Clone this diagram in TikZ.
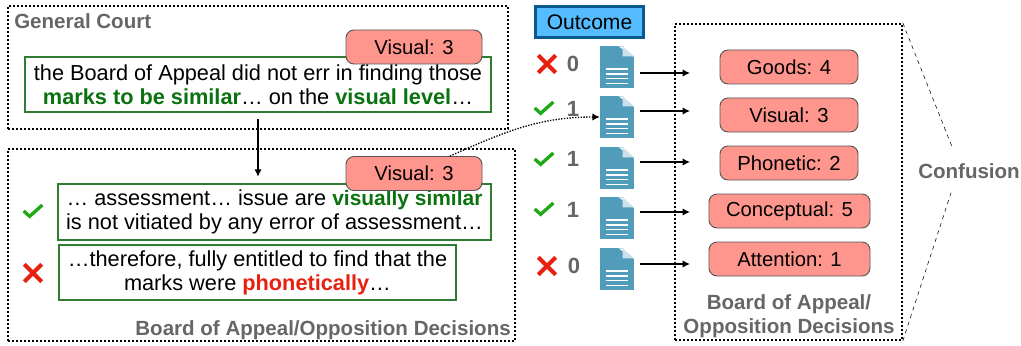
\documentclass[tikz,border=0pt]{standalone}
\usepackage{fontspec}
\setmainfont{Liberation Sans}
\usetikzlibrary{arrows.meta}
\definecolor{pillred}{HTML}{FF968D}
\definecolor{pilledge}{HTML}{555555}
\definecolor{boxgreen}{HTML}{2E7D32}
\definecolor{textgreen}{HTML}{0A720F}
\definecolor{markgreen}{HTML}{1EAA14}
\definecolor{markred}{HTML}{E8200F}
\definecolor{labelgray}{HTML}{666666}
\definecolor{docblue}{HTML}{519CBB}
\definecolor{outblue}{HTML}{55BDFF}
\definecolor{outedge}{HTML}{0B5A8E}
\newcommand{\gw}[1]{{\bfseries\color{textgreen}#1}}
\newcommand{\gn}[1]{{\bfseries\color{textgreen}\fontsize{15.7}{18}\selectfont #1}}
\newcommand{\rw}[1]{{\bfseries\color{markred}#1}}
\tikzstyle{panel}=[draw,line width=1.3pt,dash pattern=on 1.3pt off 1.7pt,inner sep=0pt]
\tikzstyle{quote}=[draw=boxgreen,line width=0.9pt,fill=white,align=center,inner sep=0pt,font=\fontsize{16.3}{18}\selectfont]
\tikzstyle{pill}=[draw=pilledge,line width=0.7pt,fill=pillred,rounded corners=6pt,minimum height=25.5pt,inner sep=0pt,font=\fontsize{15.2}{17}\selectfont]
\tikzstyle{grayhead}=[text=labelgray,font=\bfseries\fontsize{15.4}{18}\selectfont,inner sep=0pt,align=center]
\tikzstyle{score}=[text=labelgray,font=\bfseries\fontsize{16.5}{17}\selectfont,inner sep=0pt]
\tikzstyle{link}=[-{Latex[length=5.5pt,width=5.5pt]},line width=0.9pt]
\tikzstyle{doc}=[fill=docblue,minimum width=25.5pt,minimum height=31pt,inner sep=0pt,path picture={
  \fill[white] ([xshift=-11.5pt]path picture bounding box.north east) -- ([xshift=0.2pt,yshift=0.2pt]path picture bounding box.north east) -- ([yshift=-8pt]path picture bounding box.north east) -- cycle;
  \fill[white!70!docblue] ([xshift=-8.5pt]path picture bounding box.north east) |- ([yshift=-7.5pt]path picture bounding box.north east) -- cycle;
  \foreach \ly in {-1.5,-5.2,-8.9,-12.6}
    \draw[white,line width=0.9pt] ([xshift=-8.5pt,yshift=\ly pt]path picture bounding box.center) -- ([xshift=8.5pt,yshift=\ly pt]path picture bounding box.center);
}]
\tikzstyle{checkmark}=[minimum width=16pt,minimum height=12pt,inner sep=0pt,path picture={
  \draw[markgreen,line width=2.5pt] ([shift={(-7pt,0pt)}]path picture bounding box.center) -- ([shift={(-2.5pt,-4pt)}]path picture bounding box.center) -- ([shift={(7pt,4.5pt)}]path picture bounding box.center);
}]
\tikzstyle{crossmark}=[minimum width=16pt,minimum height=16pt,inner sep=0pt,path picture={
  \draw[markred,line width=3pt] ([shift={(-6.5pt,6.5pt)}]path picture bounding box.center) -- ([shift={(6.5pt,-6.5pt)}]path picture bounding box.center);
  \draw[markred,line width=3pt] ([shift={(-6.5pt,-6.5pt)}]path picture bounding box.center) -- ([shift={(6.5pt,6.5pt)}]path picture bounding box.center);
}]

\begin{document}
\begin{tikzpicture}[x=0.75pt,y=-0.75pt]
\useasboundingbox (0,0) rectangle (1021,346);
\node[panel,minimum width=375pt,minimum height=92.25pt] at (258,67.5) (court) {};
\node[panel,minimum width=380.25pt,minimum height=144pt] at (261.5,245) (board) {};
\node[panel,minimum width=170.25pt,minimum height=237pt] at (788.5,182) (appeal) {};

\node[grayhead,anchor=west] at (14,21) (court-head) {General Court};
\node[grayhead,anchor=east] at (511,330) (board-head) {Board of Appeal/Opposition Decisions};
\node[grayhead] at (789,316) (appeal-head) {Board of Appeal/\\Opposition Decisions};

\node[quote,minimum width=349.5pt,minimum height=41.25pt] at (258,84.5) (court-text) {the Board of Appeal did not err in finding those\\\gw{marks to be similar}… on the \gw{visual level}…};
\node[pill,minimum width=102pt] at (414,47) (court-visual) {Visual: 3};
\node[quote,minimum width=324.75pt,minimum height=42pt] at (274.5,212) (board-one) {… assessment… issue are \gn{visually similar}\\is not vitiated by any error of assessment…};
\node[quote,minimum width=297.75pt,minimum height=41.25pt] at (257.5,272.5) (board-two) {…therefore, fully entitled to find that the\\marks were \rw{phonetically}…};
\node[pill,minimum width=102pt] at (414,173.5) (board-visual) {Visual: 3};
\node[checkmark] at (33,211) (board-check) {};
\node[crossmark] at (33,273) (board-cross) {};
\draw[link,shorten <=4.5pt,shorten >=5pt] (court-text.south) -- (court-text.south |- board-one.north);

\node[draw=outedge,line width=2pt,fill=outblue,minimum width=81pt,minimum height=23.5pt,inner sep=0pt,font=\fontsize{15.8}{17}\selectfont] at (589.5,22) (outcome) {Outcome};

\node[crossmark] at (547,64) (mark-1) {};
\node[checkmark] at (544,108) (mark-2) {};
\node[checkmark] at (544,159) (mark-3) {};
\node[checkmark] at (544,209) (mark-4) {};
\node[crossmark] at (547,266) (mark-5) {};
\node[score] at (573,64) (score-1) {0};
\node[score] at (573,109) (score-2) {1};
\node[score] at (573,159) (score-3) {1};
\node[score] at (573,210) (score-4) {1};
\node[score] at (574,266) (score-5) {0};

\node[doc] at (617,67) (doc-1) {};
\node[doc] at (617,117) (doc-2) {};
\node[doc] at (617,168) (doc-3) {};
\node[doc] at (617,218) (doc-4) {};
\node[doc] at (617,269) (doc-5) {};

\node[pill,minimum width=103.5pt] at (789,67) (goods) {Goods: 4};
\node[pill,minimum width=103.5pt] at (789,115) (visual) {Visual: 3};
\node[pill,minimum width=103.5pt] at (789,163) (phonetic) {Phonetic: 2};
\node[pill,minimum width=120.75pt] at (789.5,211) (conceptual) {Conceptual: 5};
\node[pill,minimum width=120.75pt] at (789.5,259) (attention) {Attention: 1};

\coordinate (goods-in) at (690,73);
\coordinate (visual-in) at (690,111);
\coordinate (phonetic-in) at (690,162);
\coordinate (conceptual-in) at (690,212);
\coordinate (attention-in) at (690,264);
\draw[link] ([shift={(6,6)}]doc-1.east) -- (goods-in);
\draw[link] ([shift={(6,-6)}]doc-2.east) -- (visual-in);
\draw[link] ([shift={(6,-6)}]doc-3.east) -- (phonetic-in);
\draw[link] ([shift={(6,-6)}]doc-4.east) -- (conceptual-in);
\draw[link] ([shift={(6,-5)}]doc-5.east) -- (attention-in);

\draw[-{Latex[length=5.5pt,width=5.5pt]},line width=1pt,dash pattern=on 1pt off 1.1pt] ([xshift=27]board-visual.north) to[out=24,in=180] (doc-2.west);

\node[grayhead] at (969,171) (confusion) {Confusion};
\draw[dashed,line width=0.4pt] (appeal.north east) -- ([shift={(-16,-14)}]confusion.north);
\draw[dashed,line width=0.4pt] (appeal.south east) -- ([shift={(-18,14)}]confusion.south);
\end{tikzpicture}
\end{document}
